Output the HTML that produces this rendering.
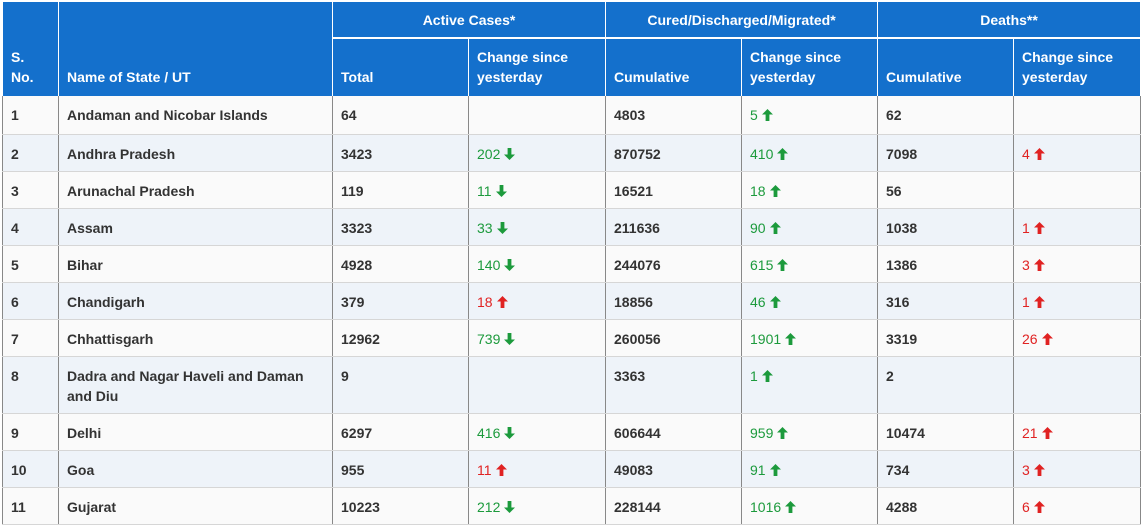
<!DOCTYPE html>
<html><head><meta charset="utf-8">
<style>
body{margin:0;background:#fff;width:1142px;height:525px;overflow:hidden;font-family:"Liberation Sans",Arial,sans-serif;}
table{position:absolute;left:2px;top:2px;border-collapse:collapse;table-layout:fixed;width:1138px;font-size:14px;}
th{background:#1470cc;color:#fff;font-weight:bold;text-align:left;padding:0 8px 9px 8px;vertical-align:bottom;line-height:20px;border-left:1px solid #fff;border-right:1px solid #fff;}
th.grp{text-align:center;vertical-align:middle;padding:0;height:35px;border-bottom:2px solid #fff;}
tr.h2 th{height:48px;}
td{padding:9px 8px 0 8px;vertical-align:top;line-height:20px;color:#333;font-weight:bold;border-left:1px solid #888;border-right:1px solid #888;border-bottom:1px solid #d6d6d6;box-sizing:border-box;}
tr.r{height:37px;}
tr.r:nth-child(odd) td{background:#fafafa;}
tr.r:nth-child(even) td{background:#eef3f9;}
td.g{color:#1c9a3c;font-weight:normal;}
td.rd{color:#e02222;font-weight:normal;}
svg{vertical-align:-1px;margin-left:4px;}
</style></head><body>
<table>
<colgroup><col style="width:56px"><col style="width:274px"><col style="width:136px"><col style="width:137px"><col style="width:136px"><col style="width:136px"><col style="width:136px"><col style="width:127px"></colgroup>
<thead>
<tr>
<th rowspan="2">S. No.</th>
<th rowspan="2">Name of State / UT</th>
<th colspan="2" class="grp">Active Cases*</th>
<th colspan="2" class="grp">Cured/Discharged/Migrated*</th>
<th colspan="2" class="grp">Deaths**</th>
</tr>
<tr class="h2">
<th>Total</th>
<th>Change since<br>yesterday</th>
<th>Cumulative</th>
<th>Change since<br>yesterday</th>
<th>Cumulative</th>
<th>Change since<br>yesterday</th>
</tr>
</thead>
<tbody id="tb"></tbody>
</table>
<script>
const rows=[
[1,"Andaman and Nicobar Islands",64,"",4803,"5u",62,""],
[2,"Andhra Pradesh",3423,"202d",870752,"410u",7098,"4u"],
[3,"Arunachal Pradesh",119,"11d",16521,"18u",56,""],
[4,"Assam",3323,"33d",211636,"90u",1038,"1u"],
[5,"Bihar",4928,"140d",244076,"615u",1386,"3u"],
[6,"Chandigarh",379,"18u",18856,"46u",316,"1u"],
[7,"Chhattisgarh",12962,"739d",260056,"1901u",3319,"26u"],
[8,"Dadra and Nagar Haveli and Daman and Diu",9,"",3363,"1u",2,""],
[9,"Delhi",6297,"416d",606644,"959u",10474,"21u"],
[10,"Goa",955,"11u",49083,"91u",734,"3u"],
[11,"Gujarat",10223,"212d",228144,"1016u",4288,"6u"]
];
const names=["sno","state","active-total","active-change","cured-total","cured-change","deaths-total","deaths-change"];
const up='<svg width="11" height="12" viewBox="0 0 11 12"><path d="M5.5 0L11 5.5H7.4V12H3.6V5.5H0Z" fill="currentColor"/></svg>';
const dn='<svg width="11" height="12" viewBox="0 0 11 12"><path d="M5.5 12L11 6.5H7.4V0H3.6V6.5H0Z" fill="currentColor"/></svg>';
const tb=document.getElementById('tb');
rows.forEach((r,i)=>{
 const tr=document.createElement('tr');tr.className='r';
 
 
 if(i===7)tr.style.height='57px';
 if(i===0)tr.style.height='38px';
 r.forEach((v,j)=>{
  const td=document.createElement('td');
  
  
  if((j===3||j===5||j===7)&&v!==""){
   const n=v.slice(0,-1),d=v.slice(-1);
   let green=(j===5)||(j===3&&d==='d');
   td.className=green?'g':'rd';
   td.innerHTML=n+(d==='u'?up:dn);
  } else td.textContent=v;
  tr.appendChild(td);
 });
 tb.appendChild(tr);
});
</script>
</body></html>
